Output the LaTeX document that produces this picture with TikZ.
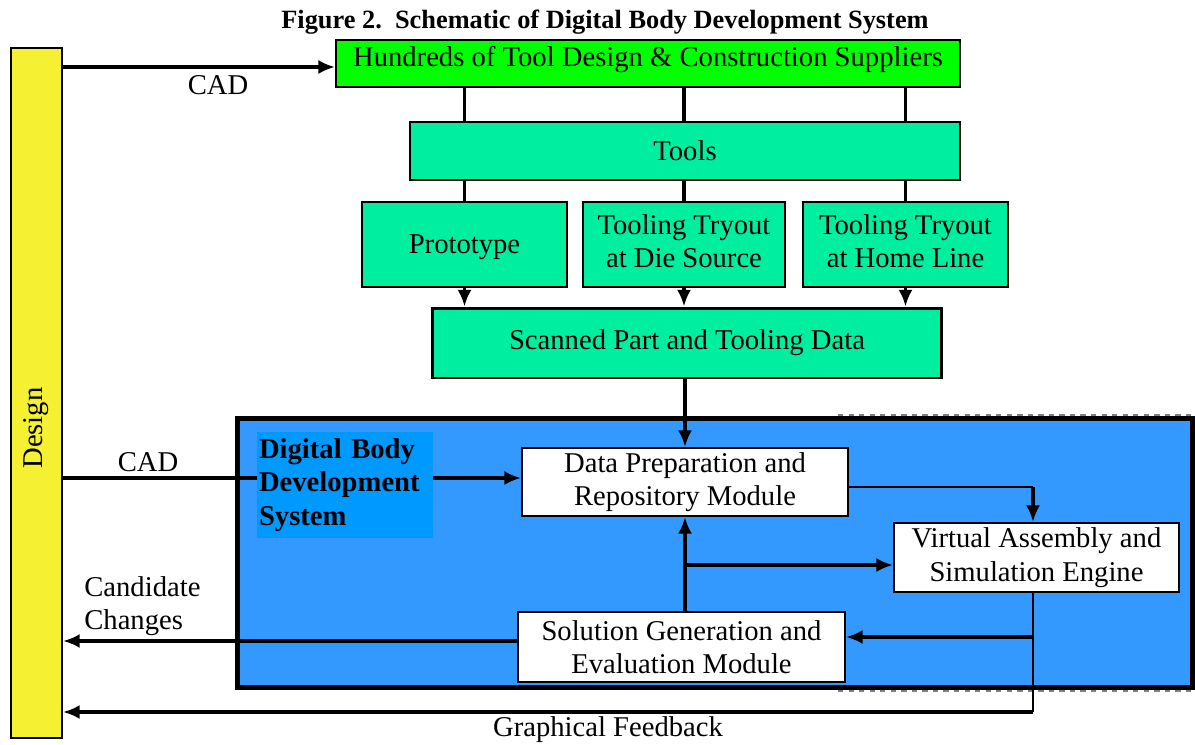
\documentclass[tikz,border=0pt]{standalone}
\usepackage{color}
\usepackage{fontspec}
\setmainfont{Liberation Serif}
\usepackage{tikz}
\usetikzlibrary{shapes,arrows,arrows.meta,calc}
\definecolor{designyellow}{RGB}{245,240,50}
\definecolor{supgreen}{RGB}{0,255,0}
\definecolor{toolgreen}{RGB}{0,238,160}
\definecolor{dbdsblue}{RGB}{51,153,255}
\definecolor{labelblue}{RGB}{0,153,255}
\tikzstyle{arrow} = [draw, -{Latex[length=9.5pt, width=8pt]}, line width=2pt]
\tikzstyle{line} = [draw, line width=2pt]
\tikzstyle{thinline} = [draw, line width=0.9pt]
\tikzstyle{box} = [draw, line width=1.1pt, rectangle, align=center, inner sep=0pt]
\tikzstyle{greenbox} = [box, fill=toolgreen]
\tikzstyle{whitebox} = [box, fill=white]

\begin{document}
\begin{tikzpicture}[x=0.02cm, y=-0.02cm, every node/.style={font=\fontsize{16.3}{19}\selectfont}]
      \useasboundingbox (0,0) rectangle (1195,744);

      \node (title) at (605,22) {\fontsize{15}{17}\selectfont\bfseries Figure 2.\ \ Schematic of Digital Body Development System};

      \node (design) at (36.5,393) [box, fill=designyellow, minimum width=1.02cm, minimum height=13.8cm] {};
      \node (designtxt) at (36.5,428) [rotate=90] {Design};

      \node (suppliers) at (648,63.5) [box, fill=supgreen, minimum width=12.48cm, minimum height=0.94cm, text depth=0.3cm] {Hundreds of Tool Design \& Construction Suppliers};
      \node (tools) at (685,151) [greenbox, minimum width=11cm, minimum height=1.16cm] {Tools};
      \node (proto) at (464.5,244.5) [greenbox, minimum width=4.1cm, minimum height=1.7cm, text depth=0cm] {Prototype};
      \node (diesrc) at (684,244.5) [greenbox, minimum width=4.04cm, minimum height=1.7cm, text depth=0.15cm] {Tooling Tryout\\at Die Source};
      \node (homeline) at (905.5,244.5) [greenbox, minimum width=4.1cm, minimum height=1.7cm, text depth=0.15cm] {Tooling Tryout\\at Home Line};
      \node (scanned) at (687,343) [greenbox, line width=1.7pt, minimum width=10.2cm, minimum height=1.4cm] {Scanned Part and Tooling Data};

      \draw[arrow] (design.east |- 0,67) -- (suppliers.west |- 0,67);
      \node (cad1) at (218,85) {CAD};

      \foreach \n in {proto, diesrc, homeline} {
        \draw[line] (\n.north |- suppliers.south) -- (\n.north |- tools.north);
        \draw[line] (\n.north |- tools.south) -- (\n.north);
        \draw[arrow] (\n.south) -- (\n.south |- scanned.north);
      }

      % digital body development system
      \fill[dbdsblue] (237,418) rectangle (1192,687);
      \draw[gray, dashed, line width=0.6pt] (838,415) -- (1195,415);
      \draw[gray, dashed, line width=0.6pt] (838,691) -- (1195,691);
      \draw[line width=2.85pt] (237,418) rectangle (1192,687);

      \node (dataprep) at (685,482) [whitebox, minimum width=6.52cm, minimum height=1.36cm] {Data Preparation and\\Repository Module};
      \node (vase) at (1036.5,557.5) [whitebox, minimum width=5.7cm, minimum height=1.38cm] {Virtual Assembly and\\Simulation Engine};
      \node (solgen) at (681.5,647) [whitebox, minimum width=6.54cm, minimum height=1.4cm] {Solution Generation and\\Evaluation Module};

      \draw[arrow] (dataprep.north |- scanned.south) -- (dataprep.north);
      \draw[arrow] (design.east |- 0,478) -- (dataprep.west |- 0,478);
      \node (cad2) at (148,462) {CAD};
      \node (dbdslabel) at (345,485) [fill=labelblue, minimum height=2.12cm, text width=3.44cm, inner sep=0.04cm, align=left] {\bfseries Digital Body\\Development\\System};

      \coordinate (dv) at (1033,487);
      \coordinate (fb) at (1033,712);
      \coordinate (fs) at (1033,637);
      \coordinate (mid) at (685,565);
      \draw[thinline] (dataprep.east |- dv) -- (dv);
      \draw[arrow] (dv) -- (vase.north -| dv);
      \draw[arrow] (solgen.north -| mid) -- (dataprep.south -| mid);
      \draw[arrow] (mid) -- (vase.west |- mid);
      \draw[thinline] (vase.south -| fb) -- (fb);
      \draw[arrow] (fs) -- (solgen.east |- fs);
      \draw[arrow] (fb) -- (design.east |- fb);
      \draw[arrow] (solgen.west |- 0,641) -- (design.east |- 0,641);

      \node (candidate) at (84,606) [anchor=west, align=left, inner sep=0pt] {Candidate\\Changes};
      \node (graphfb) at (608,730) {Graphical Feedback};
    \end{tikzpicture}
\end{document}
